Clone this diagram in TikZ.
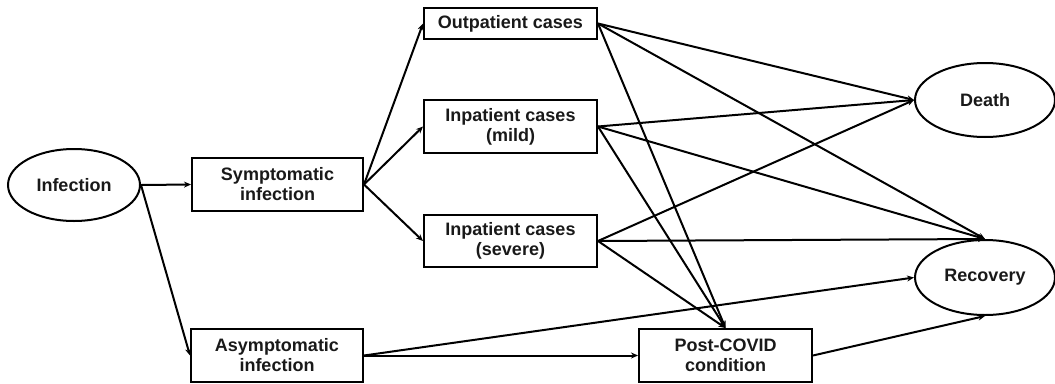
\documentclass[tikz,border=0pt]{standalone}
\usepackage{fontspec}
\setmainfont{Liberation Sans}
\usetikzlibrary{shapes.geometric,arrows.meta}
\begin{document}
\begin{tikzpicture}[x=1pt,y=-1pt,
  every node/.style={font=\fontsize{18}{20}\selectfont\bfseries, text=black!90, align=center, inner sep=0pt},
  boxnode/.style={draw, line width=2pt, rectangle},
  ovalnode/.style={draw, line width=2pt, ellipse},
  conn/.style={line width=2pt, -{Stealth[length=7pt,width=6pt]}}]
\useasboundingbox (0,0) rectangle (1055,383);
\node[ovalnode, minimum width=132pt, minimum height=72pt] (inf) at (74,185) {Infection};
\node[boxnode, minimum width=171pt, minimum height=53pt] (sym) at (277.5,184.5) {Symptomatic\\infection};
\node[boxnode, minimum width=172pt, minimum height=53pt] (asym) at (277,355.5) {Asymptomatic\\infection};
\node[boxnode, minimum width=173pt, minimum height=31pt] (out) at (510.5,23.5) {Outpatient cases};
\node[boxnode, minimum width=173pt, minimum height=53pt] (mild) at (510.5,126.5) {Inpatient cases\\(mild)};
\node[boxnode, minimum width=173pt, minimum height=52pt] (sev) at (510.5,241) {Inpatient cases\\(severe)};
\node[boxnode, minimum width=173pt, minimum height=53pt] (post) at (725.5,355.5) {Post-COVID\\condition};
\node[ovalnode, minimum width=140pt, minimum height=74pt] (death) at (985,100) {Death};
\node[ovalnode, minimum width=140pt, minimum height=75pt] (rec) at (985,277.5) {Recovery};

\draw[conn] (inf.east) -- (sym.west);
\draw[conn] (inf.east) -- (asym.west);
\draw[conn] (sym.east) -- (out.west);
\draw[conn] (sym.east) -- (mild.west);
\draw[conn] (sym.east) -- (sev.west);
\foreach \s in {out,mild,sev}{
  \draw[conn] (\s.east) -- (death.west);
  \draw[conn] (\s.east) -- (rec.north);
  \draw[conn] (\s.east) -- (post.north);
}
\draw[conn] (asym.east) -- (rec.west);
\draw[conn] (asym.east) -- (post.west);
\draw[conn] (post.east) -- (rec.south);
\end{tikzpicture}
\end{document}
